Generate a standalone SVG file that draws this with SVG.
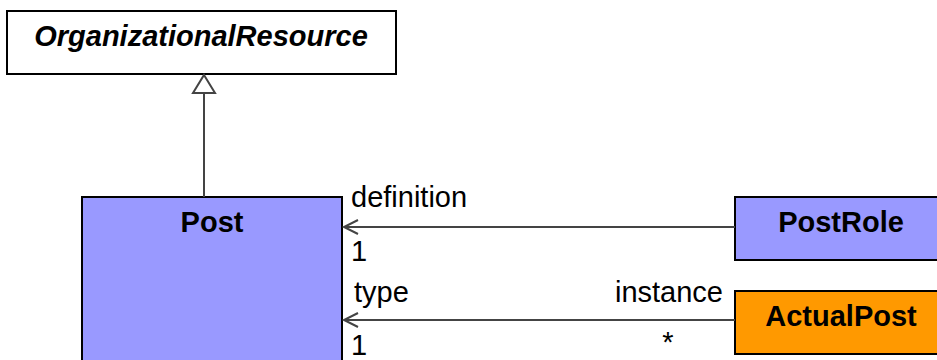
<svg xmlns="http://www.w3.org/2000/svg" width="937" height="360" viewBox="0 0 937 360">
<style>
.box{stroke:#000;stroke-width:2}
.t{font-family:"Liberation Sans",Arial,sans-serif;font-size:29px;fill:#000}
.b{font-weight:bold;text-anchor:middle}
.c{stroke:#444;stroke-width:2;fill:none}
</style>
<defs>
<marker id="open" markerWidth="20" markerHeight="20" refX="15" refY="8" orient="auto" markerUnits="userSpaceOnUse">
<path d="M1,1 L15,8 L1,15" fill="none" stroke="#444" stroke-width="2"/>
</marker>
</defs>
<g id="OrganizationalResource">
<rect class="box" x="7" y="11" width="389" height="63" fill="#fff"/>
<text class="t b" x="201" y="46" font-style="italic">OrganizationalResource</text>
</g>
<g id="Post">
<rect class="box" x="82" y="197" width="260" height="180" fill="#9999ff"/>
<text class="t b" x="212" y="232">Post</text>
</g>
<g id="PostRole">
<rect class="box" x="735" y="197" width="220" height="63" fill="#9999ff"/>
<text class="t b" x="841" y="232">PostRole</text>
</g>
<g id="ActualPost">
<rect class="box" x="735" y="291" width="220" height="63" fill="#ff9900"/>
<text class="t b" x="841" y="326">ActualPost</text>
</g>
<g id="connectors">
<path class="c" d="M204,197 L204,93"/>
<path d="M204,75 L215,93 L193,93 Z" fill="#fff" stroke="#444" stroke-width="2"/>
<path class="c" d="M735,227 L344,227" marker-end="url(#open)"/>
<path class="c" d="M735,320 L344,320" marker-end="url(#open)"/>
<text class="t" x="351" y="207">definition</text>
<text class="t" x="351" y="261">1</text>
<text class="t" x="354" y="302">type</text>
<text class="t" x="351" y="355">1</text>
<text class="t" x="723" y="302" text-anchor="end">instance</text>
<text class="t" x="668" y="352" text-anchor="middle">*</text>
</g>
</svg>
